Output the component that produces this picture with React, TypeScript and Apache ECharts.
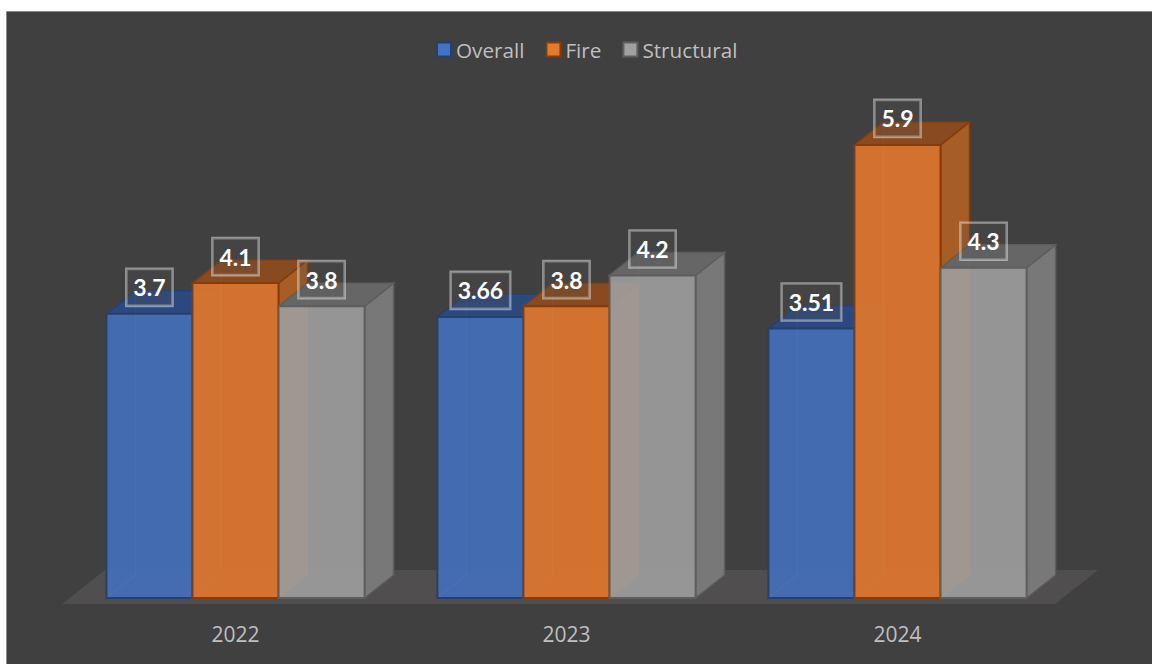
import React, { useEffect, useRef } from "react";
import * as echarts from "echarts";

const categories = ["2022", "2023", "2024"];
const overall = [3.7, 3.66, 3.51];
const fire = [4.1, 3.8, 5.9];
const structural = [3.8, 4.2, 4.3];

const palette = [
  { name: "Overall", values: overall, front: "#4470BD", alpha: 0.9, top: "#2B497E", side: "#2F5597", edge: "#24406F", legend: "#4472C4" },
  { name: "Fire", values: fire, front: "#D9752E", alpha: 0.96, top: "#8A4A1F", side: "#A65D26", edge: "#843C0C", legend: "#E07B30" },
  { name: "Structural", values: structural, front: "#9F9F9F", alpha: 0.9, top: "#666666", side: "#787878", edge: "#5E5E5E", legend: "#A0A0A0" },
];

const DX = 29;
const DY = 23;
const makeRenderItem = (seriesIndex: number) => (params: any, api: any) => {
  const s = palette[seriesIndex];
  const i = api.value(0);
  const v = api.value(1);
  const top = api.coord([i, v]);
  const base = api.coord([i, 0]);
  const band = api.size([1, 0])[0];
  const w = band * 0.26;
  const x0 = top[0] + (seriesIndex - 1) * w - w / 2;
  const x1 = x0 + w;
  const yT = top[1];
  const yB = base[1];
  const line = { stroke: s.edge, lineWidth: 2 };
  const soft = { stroke: s.edge, lineWidth: 1.5 };
  return {
    type: "group",
    children: [
      {
        type: "polygon",
        z2: seriesIndex * 10,
        shape: { points: [[x1, yB], [x1 + DX, yB - DY], [x1 + DX, yT - DY], [x1, yT]] },
        style: { fill: s.side, ...soft },
      },
      {
        type: "polygon",
        z2: seriesIndex * 10 + 1,
        shape: { points: [[x0, yT], [x0 + DX, yT - DY], [x1 + DX, yT - DY], [x1, yT]] },
        style: { fill: s.top, ...soft },
      },
      {
        type: "rect",
        z2: seriesIndex * 10 + 2,
        shape: { x: x0, y: yT, width: w, height: yB - yT },
        style: { fill: s.front, opacity: s.alpha, stroke: null },
      },
      {
        type: "polyline",
        z2: seriesIndex * 10 + 3,
        shape: { points: [[x0, yB], [x0 + DX, yB - DY], [x0 + DX, yT - DY]] },
        style: { fill: null, stroke: "rgba(255,255,255,0.03)", lineWidth: 1.5 },
      },
      {
        type: "rect",
        z2: seriesIndex * 10 + 4,
        shape: { x: x0, y: yT, width: w, height: yB - yT },
        style: { fill: null, ...line },
      },
      {
        type: "text",
        z2: 100,
        x: top[0] + (seriesIndex - 1) * w,
        y: yT - 26.5,
        style: {
          text: String(v),
          fill: "#FFFFFF",
          font: "bold 23px Lato",
          align: "center",
          verticalAlign: "middle",
          backgroundColor: "rgba(80,80,80,0.25)",
          borderColor: "rgba(255,255,255,0.45)",
          borderWidth: 1.3,
          padding: [7, 7, 7, 7],
        },
      },
    ],
  };
};

export default function App() {
  const ref = useRef<HTMLDivElement>(null);
  useEffect(() => {
    const chart = echarts.init(ref.current!, null, { renderer: "svg" });
    chart.setOption({
      animation: false,
      backgroundColor: "#FFFFFF",
      graphic: [
        {
          type: "rect",
          z: -10,
          silent: true,
          shape: { x: 6.5, y: 11.5, width: 1150, height: 660 },
          style: { fill: "#404040", stroke: "#8C8C8C", lineWidth: 1 },
        },
        {
          type: "polygon",
          z: -9,
          silent: true,
          shape: { points: [[62, 604], [1055, 604], [1098, 570], [105, 570]] },
          style: { fill: "#504E4E" },
        },
      ],
      legend: {
        left: 436,
        top: 39,
        padding: 0,
        itemWidth: 14,
        itemHeight: 14,
        itemGap: 21,
        icon: "rect",
        textStyle: { color: "#BFBFBF", fontFamily: "Open Sans", fontSize: 20.7 },
      },
      grid: { left: 70, top: 60.4, width: 993, height: 537.6 },
      xAxis: {
        type: "category",
        data: categories,
        axisLine: { show: false },
        axisTick: { show: false },
        axisLabel: { color: "#BFBFBF", fontFamily: "Open Sans", fontSize: 21, margin: 25 },
      },
      yAxis: { type: "value", min: 0, max: 7, show: false, splitLine: { show: false } },
      series: palette.map((s, idx) => ({
        type: "custom",
        name: s.name,
        clip: false,
        encode: { x: 0, y: 1 },
        itemStyle: { color: s.legend, borderColor: s.edge, borderWidth: 2 },
        renderItem: makeRenderItem(idx),
        data: s.values.map((v, i) => [i, v]),
      })),
    });
    return () => chart.dispose();
  }, []);
  return <div ref={ref} style={{ position: "absolute", left: 0, top: 0, width: 1152, height: 664 }} />;
}
